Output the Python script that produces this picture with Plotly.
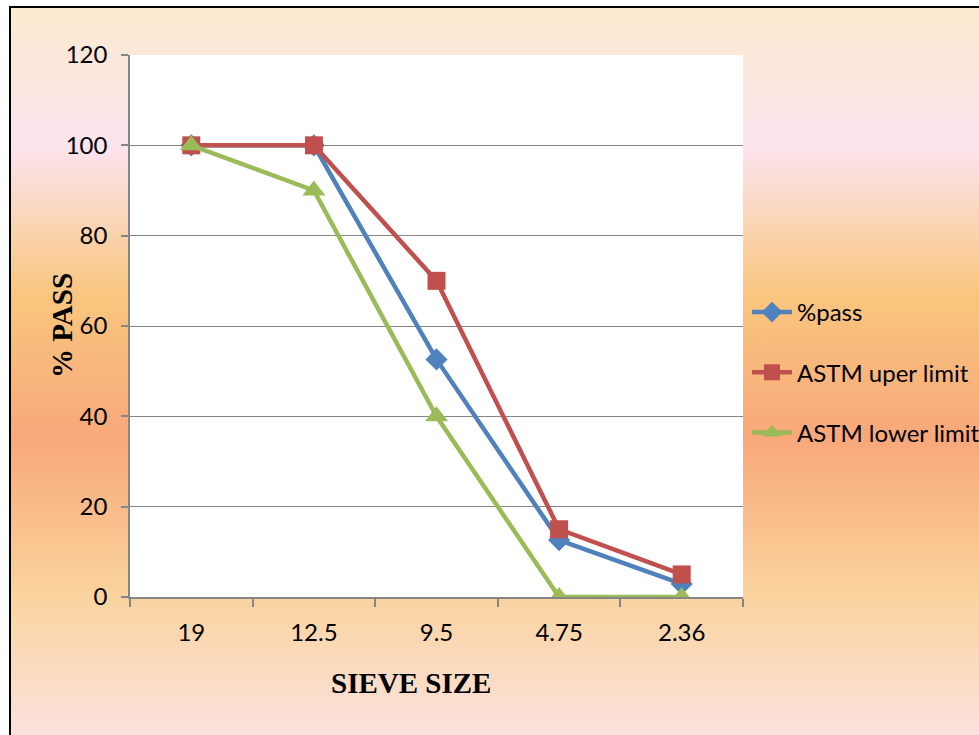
import base64
import plotly.graph_objects as go

sieve_sizes = ["19", "12.5", "9.5", "4.75", "2.36"]
pct_pass = [100, 100, 52.6, 12.6, 2.9]
astm_upper = [100, 100, 70, 15, 5]
astm_lower = [100, 90, 40, 0, 0]

W, H = 979, 735
L, R, T, B = 130, 236, 55, 138
PW, PH = W - L - R, H - T - B


def px_x(px):
    return (px - L) / PW


def px_y(py):
    return (H - B - py) / PH


stops = [(0.0, "#FBEACF"), (0.188, "#FCE4EE"), (0.384, "#F9C67E"),
         (0.574, "#F8A87A"), (0.777, "#FAD39C"), (0.99, "#FCE3E6"), (1.0, "#FCE3E6")]
stop_xml = "".join(f'<stop offset="{o}" stop-color="{c}"/>' for o, c in stops)
svg = ('<svg xmlns="http://www.w3.org/2000/svg" width="100" height="100" viewBox="0 0 100 100" '
       'preserveAspectRatio="none"><defs><linearGradient id="g" x1="0" y1="0" x2="0" y2="1">'
       + stop_xml + '</linearGradient></defs><rect width="100" height="100" fill="url(#g)"/></svg>')
src = "data:image/svg+xml;base64," + base64.b64encode(svg.encode()).decode()

tick_font = dict(family="Lato, Carlito, sans-serif", size=24, color="#000000")

fig = go.Figure()
fig.add_trace(go.Scatter(x=sieve_sizes, y=pct_pass, name="%pass", mode="lines+markers",
                         line=dict(color="#4F81BD", width=4.5),
                         marker=dict(symbol="diamond", size=17, color="#4F81BD"),
                         legendgroup="a"))
fig.add_trace(go.Scatter(x=sieve_sizes, y=astm_upper, name="ASTM uper limit", mode="lines+markers",
                         line=dict(color="#C0504D", width=4.5),
                         marker=dict(symbol="square", size=18, color="#C0504D"),
                         legendgroup="b"))
fig.add_trace(go.Scatter(x=sieve_sizes, y=astm_lower, name="ASTM lower limit", mode="lines+markers",
                         line=dict(color="#9BBB59", width=4.5),
                         marker=dict(symbol="triangle-up", size=20, color="#9BBB59"),
                         legendgroup="c"))

fig.update_layout(
    width=W, height=H,
    margin=dict(l=L, r=R, t=T, b=B, autoexpand=False),
    paper_bgcolor="white",
    plot_bgcolor="rgba(0,0,0,0)",
    font=tick_font,
    showlegend=True,
    legend=dict(x=px_x(747), xanchor="left", y=px_y(290), yanchor="top",
                traceorder="grouped", tracegroupgap=26,
                font=dict(family="Lato, Carlito, sans-serif", size=24, color="#000000"),
                bgcolor="rgba(0,0,0,0)", itemwidth=40),
    images=[dict(source=src, xref="paper", yref="paper", x=px_x(9), y=px_y(6),
                 sizex=(1000 - 9) / PW, sizey=(760 - 6) / PH, xanchor="left", yanchor="top",
                 sizing="stretch", layer="below")],
    shapes=[
        dict(type="rect", xref="x domain", yref="y domain", x0=0, x1=1, y0=0, y1=1,
             fillcolor="white", line=dict(width=0), layer="below"),
        dict(type="rect", xref="paper", yref="paper", x0=px_x(10), x1=px_x(1000),
             y0=px_y(7), y1=px_y(760), line=dict(color="black", width=2),
             fillcolor="rgba(0,0,0,0)", layer="above"),
    ],
    annotations=[
        dict(text="<b>SIEVE SIZE</b>", xref="paper", yref="paper", x=px_x(411), y=px_y(683),
             xanchor="center", yanchor="middle", showarrow=False,
             font=dict(family="Liberation Serif, serif", size=29, color="black")),
        dict(text="<b>% PASS</b>", xref="paper", yref="paper", x=px_x(62), y=px_y(326),
             xanchor="center", yanchor="middle", showarrow=False, textangle=-90,
             font=dict(family="Liberation Serif, serif", size=29, color="black")),
    ],
)

fig.update_xaxes(type="category", range=[-0.5, 4.5], showgrid=False, showline=True,
                 linecolor="#868686", linewidth=1.5, ticks="outside", tickson="boundaries",
                 ticklen=8, tickcolor="#868686", tickwidth=1.5, ticklabelstandoff=13,
                 tickfont=tick_font, zeroline=False)
fig.update_yaxes(range=[0, 120], dtick=20, showgrid=True, gridcolor="#868686", gridwidth=1,
                 showline=True, linecolor="#868686", linewidth=1.5, ticks="outside",
                 ticklen=7, tickcolor="#868686", tickwidth=1.5, ticklabelstandoff=9,
                 tickfont=tick_font, zeroline=False)

fig.write_html("out.html")
